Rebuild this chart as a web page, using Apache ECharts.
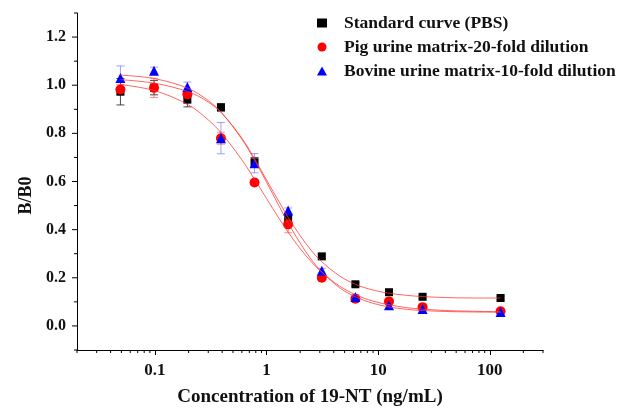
<!DOCTYPE html>
<html>
<head>
<meta charset="utf-8">
<script src="https://cdn.jsdelivr.net/npm/echarts@6/dist/echarts.min.js"></script>
<style>
  html, body { margin: 0; padding: 0; background: #fff; }
  #chart { width: 617px; height: 412px; }
</style>
</head>
<body>
<div id="chart"></div>
<script>
// Competitive ELISA: B/B0 against 19-NT concentration, three matrices
const concentrations = [0.049, 0.098, 0.195, 0.39, 0.78, 1.56, 3.125, 6.25, 12.5, 25, 125];

const pbsMean    = [0.973, 0.990, 0.940, 0.908, 0.680, 0.447, 0.289, 0.173, 0.140, 0.121, 0.116];
const pbsErr     = [0.055, 0.030, 0.030, 0.015, 0.020, 0.020, 0.010, 0.008, 0.008, 0.008, 0.008];
const pigMean    = [0.982, 0.989, 0.962, 0.780, 0.596, 0.422, 0.200, 0.113, 0.102, 0.078, 0.061];
const pigErr     = [0.020, 0.040, 0.015, 0.025, 0.010, 0.035, 0.010, 0.008, 0.008, 0.008, 0.008];
const bovineMean = [1.030, 1.060, 0.993, 0.780, 0.676, 0.480, 0.229, 0.120, 0.086, 0.070, 0.058];
const bovineErr  = [0.050, 0.015, 0.020, 0.065, 0.040, 0.010, 0.010, 0.010, 0.015, 0.010, 0.010];

// Fitted logistic curves, sampled along the concentration axis
const curveX    = [0.049, 0.1, 0.2, 0.3, 0.4, 0.6, 0.8, 1.0, 1.3, 1.6, 2.0, 2.5, 3.1, 4.5, 6.25, 9, 12.5, 18, 25, 40, 70, 125];
const pbsFit    = [1.023, 1.008, 0.972, 0.930, 0.882, 0.780, 0.686, 0.606, 0.514, 0.443, 0.375, 0.315, 0.268, 0.208, 0.173, 0.149, 0.136, 0.127, 0.122, 0.118, 0.116, 0.116];
const pigFit    = [1.003, 0.977, 0.918, 0.856, 0.797, 0.690, 0.601, 0.529, 0.445, 0.382, 0.321, 0.268, 0.224, 0.166, 0.130, 0.103, 0.088, 0.076, 0.070, 0.064, 0.061, 0.059];
const bovineFit = [1.042, 1.027, 0.986, 0.936, 0.883, 0.776, 0.680, 0.597, 0.496, 0.419, 0.344, 0.278, 0.226, 0.159, 0.121, 0.094, 0.079, 0.069, 0.064, 0.060, 0.058, 0.057];

const seriesNames = ['Standard curve (PBS)', 'Pig urine matrix-20-fold dilution', 'Bovine urine matrix-10-fold dilution'];

// Axis ranges and tick values
const xRange = [0.02, 300];
const yRange = [-0.1, 1.3];
const xMinorTicks = [0.02, 0.03, 0.04, 0.05, 0.06, 0.07, 0.08, 0.09,
                     0.2, 0.3, 0.4, 0.5, 0.6, 0.7, 0.8, 0.9,
                     2, 3, 4, 5, 6, 7, 8, 9,
                     20, 30, 40, 50, 60, 70, 80, 90, 200, 300];
const yMajorTicks = [0, 0.2, 0.4, 0.6, 0.8, 1.0, 1.2];
const yMinorTicks = [-0.1, 0.1, 0.3, 0.5, 0.7, 0.9, 1.1, 1.3];

const FONT = 'Liberation Serif';

function pairs(xs, ys) { return xs.map((x, i) => [x, ys[i]]); }

function errorBars(means, errs, color) {
  return {
    type: 'custom',
    z: 2,
    silent: true,
    clip: false,
    data: concentrations.map((c, i) => [c, means[i] - errs[i], means[i] + errs[i]]),
    encode: { x: 0, y: [1, 2] },
    renderItem: function (params, api) {
      const lo = api.coord([api.value(0), api.value(1)]);
      const hi = api.coord([api.value(0), api.value(2)]);
      const w = 4;
      const st = { stroke: color, lineWidth: 1 };
      return {
        type: 'group',
        children: [
          { type: 'line', shape: { x1: hi[0], y1: hi[1], x2: lo[0], y2: lo[1] }, style: st },
          { type: 'line', shape: { x1: hi[0] - w, y1: hi[1], x2: hi[0] + w, y2: hi[1] }, style: st },
          { type: 'line', shape: { x1: lo[0] - w, y1: lo[1], x2: lo[0] + w, y2: lo[1] }, style: st }
        ]
      };
    }
  };
}

function points(name, means, symbol, size, color) {
  return {
    name: name, type: 'scatter', z: 3,
    symbol: symbol, symbolSize: size,
    itemStyle: { color: color, opacity: 1 },
    data: pairs(concentrations, means)
  };
}

function fitLine(ys) {
  return {
    type: 'line', z: 4, silent: true,
    smooth: 0.35, showSymbol: false, symbol: 'none',
    lineStyle: { color: 'rgba(255,50,50,0.75)', width: 1 },
    data: pairs(curveX, ys)
  };
}

// Short tick marks the axes do not draw themselves
function tickMarks(data, horizontal, len) {
  return {
    type: 'custom', z: 5, silent: true, clip: false,
    data: data,
    renderItem: function (params, api) {
      const p = api.coord([api.value(0), api.value(1)]);
      const shape = horizontal
        ? { x1: p[0], y1: p[1], x2: p[0], y2: p[1] + len }
        : { x1: p[0], y1: p[1], x2: p[0] - len, y2: p[1] };
      return { type: 'line', shape: shape, style: { stroke: '#000', lineWidth: 1 } };
    }
  };
}

const chart = echarts.init(document.getElementById('chart'), null, { renderer: 'canvas' });

chart.setOption({
  animation: false,
  backgroundColor: '#fff',
  grid: { left: 77, right: 74, top: 13, bottom: 57, containLabel: false },
  legend: {
    data: seriesNames,
    orient: 'vertical',
    left: 312, top: 9,
    itemWidth: 10, itemHeight: 9, itemGap: 6,
    textStyle: { fontFamily: FONT, fontWeight: 'bold', fontSize: 17.5, color: '#111', lineHeight: 17, padding: [0, 0, 0, 12] }
  },
  xAxis: {
    type: 'log', logBase: 10,
    min: xRange[0], max: xRange[1],
    name: 'Concentration of 19-NT (ng/mL)',
    nameLocation: 'middle', nameGap: 38,
    nameTextStyle: { fontFamily: FONT, fontWeight: 'bold', fontSize: 19, color: '#111' },
    axisLine: { show: true, onZero: false, lineStyle: { color: '#000', width: 1 } },
    axisTick: { show: true, inside: false, length: 5, lineStyle: { color: '#000' } },
    splitLine: { show: false },
    axisLabel: {
      margin: 12, fontFamily: FONT, fontWeight: 'bold', fontSize: 17, color: '#111',
      showMinLabel: false, showMaxLabel: false,
      formatter: function (v) {
        const e = Math.log10(v);
        if (Math.abs(e - Math.round(e)) > 1e-6) return '';
        return String(+Number(v).toPrecision(1));
      }
    }
  },
  yAxis: {
    type: 'value',
    min: yRange[0], max: yRange[1], interval: 0.1,
    name: 'B/B0',
    nameLocation: 'middle', nameGap: 39, nameRotate: 90,
    nameTextStyle: { fontFamily: FONT, fontWeight: 'bold', fontSize: 18, color: '#111', padding: [0, 28, 0, 0] },
    axisLine: { show: true, onZero: false, lineStyle: { color: '#000', width: 1 } },
    axisTick: { show: false },
    splitLine: { show: false },
    axisLabel: {
      margin: 11, fontFamily: FONT, fontWeight: 'bold', fontSize: 16, color: '#111',
      formatter: function (v) {
        const k = Math.round(v * 10);
        return (k % 2 === 0) ? (k / 10).toFixed(1) : '';
      }
    }
  },
  series: [
    errorBars(pbsMean, pbsErr, 'rgba(40,40,40,0.85)'),
    errorBars(pigMean, pigErr, 'rgba(255,60,60,0.6)'),
    errorBars(bovineMean, bovineErr, 'rgba(80,80,255,0.55)'),
    points(seriesNames[0], pbsMean, 'rect', 8, '#000'),
    points(seriesNames[1], pigMean, 'circle', 10, '#ff0000'),
    points(seriesNames[2], bovineMean, 'triangle', 10, '#0000ff'),
    fitLine(pbsFit),
    fitLine(pigFit),
    fitLine(bovineFit),
    tickMarks(xMinorTicks.map(v => [v, yRange[0]]), true, 3),
    tickMarks(yMajorTicks.map(v => [xRange[0], v]), false, 5),
    tickMarks(yMinorTicks.map(v => [xRange[0], v]), false, 3)
  ]
});
</script>
</body>
</html>
